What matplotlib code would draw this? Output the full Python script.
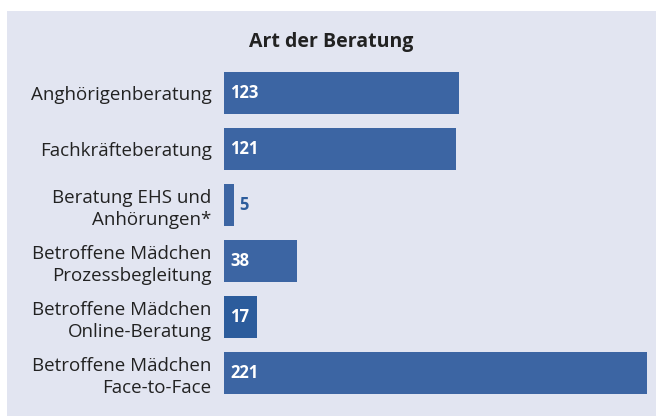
import matplotlib.pyplot as plt
from matplotlib.patches import Rectangle

labels = ["Anghörigenberatung", "Fachkräfteberatung", "Beratung EHS und\nAnhörungen*",
          "Betroffene Mädchen\nProzessbegleitung", "Betroffene Mädchen\nOnline-Beratung",
          "Betroffene Mädchen\nFace-to-Face"]
values = [123, 121, 5, 38, 17, 221]
colors = ["#3c65a3", "#3c65a3", "#3c65a3", "#3c65a3", "#2c5c9c", "#3c65a3"]

plt.rcParams['font.family'] = ['Open Sans', 'DejaVu Sans']

fig = plt.figure(figsize=(6.56, 4.16), dpi=100, facecolor='white')
fig.patches.append(Rectangle((7 / 656, 0), 1, 1 - 11 / 416, transform=fig.transFigure,
                             facecolor='#e2e5f1', edgecolor='none', zorder=-10))

ax = fig.add_axes([224 / 656, 15 / 416, 423 / 656, 336 / 416])
ax.set_facecolor('none')
ypos = list(range(len(values)))
ax.barh(ypos, values, height=0.75, color=colors)
ax.set_xlim(0, 221)
ax.set_ylim(len(values) - 0.5, -0.5)
for s in ax.spines.values():
    s.set_visible(False)
ax.set_xticks([])
ax.set_yticks(ypos)
ax.set_yticklabels(labels, fontsize=13.5, color='#222222', ha='right', linespacing=1.3)
ax.tick_params(axis='y', length=0, pad=9)

for y, v in zip(ypos, values):
    if v < 10:
        ax.text(v + 3, y, str(v), color='#2c5c9c', fontsize=12, fontweight='bold', va='center')
    else:
        ax.text(3.2, y, str(v), color='white', fontsize=12, fontweight='bold', va='center')

fig.text(331 / 656, 1 - 42 / 416, "Art der Beratung", fontsize=14, fontweight='bold',
         color='#222222', ha='center', va='center')

fig.savefig('out.png', dpi=100, facecolor='white')
